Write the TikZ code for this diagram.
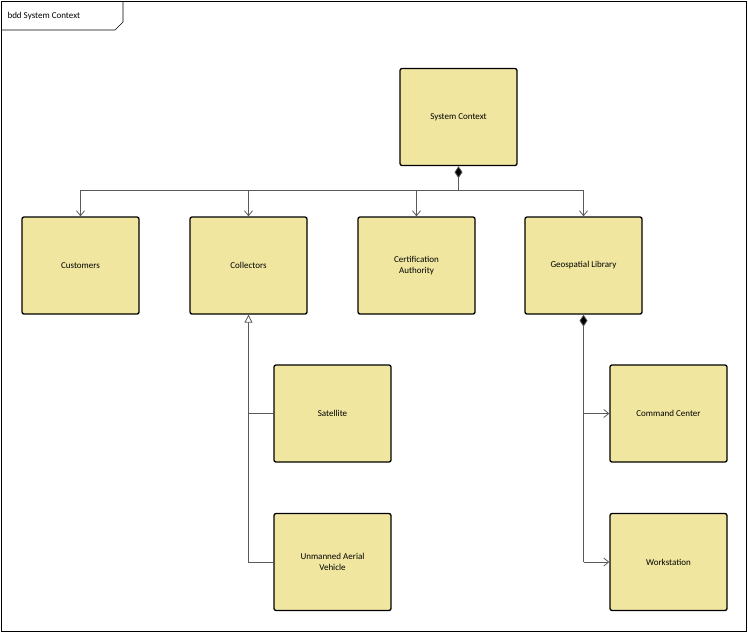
\documentclass[tikz,border=0pt]{standalone}
\usepackage{fontspec}
\setmainfont{Carlito}
\usetikzlibrary{arrows.meta}
\begin{document}
\begin{tikzpicture}[x=1pt,y=-1pt,
  blk/.style={draw=black,line width=1.3pt,fill={rgb,255:red,240;green,230;blue,160},rounded corners=2pt,minimum width=117pt,minimum height=97pt,align=center,font=\fontsize{9}{11}\selectfont,inner sep=0pt},
  con/.style={draw={rgb,255:red,90;green,90;blue,90},line width=0.8pt},
  open/.style={-{Straight Barb[length=5pt,width=8pt]}},
  comp/.style={{Diamond[length=12pt,width=8pt,fill=black]}-},
  gen/.style={-{Triangle[open,length=8pt,width=8pt,fill=white]}}]
\useasboundingbox (0,0) rectangle (748,633);
\draw[line width=1pt] (1,1) rectangle (746,631);
\draw[line width=0.6pt] (1,30) -- (115,30) -- (123,22) -- (123,1);
\node[anchor=west,font=\fontsize{9}{11}\selectfont] (tab) at (4,16) {bdd System Context};
\node[blk] (sc) at (458.5,117) {System Context};
\node[blk] (cu) at (80.5,265.5) {Customers};
\node[blk] (co) at (248.5,265.5) {Collectors};
\node[blk] (ca) at (416.5,265.5) {Certification\\Authority};
\node[blk] (gl) at (583.5,265.5) {Geospatial Library};
\node[blk] (sa) at (332.5,413.5) {Satellite};
\node[blk] (uv) at (332.5,562) {Unmanned Aerial\\Vehicle};
\node[blk] (cc) at (668.5,413.5) {Command Center};
\node[blk] (ws) at (668.5,562) {Workstation};
\coordinate (bus) at (458.5,190);
\draw[con,comp] (sc.south) -- (bus);
\foreach \n in {cu,co,ca,gl} \draw[con,open] (bus) -| (\n.north);
\draw[con,gen] (sa.west) -| (co.south);
\draw[con] (uv.west) -| (sa.west -| co.south);
\coordinate (gj) at (gl.south |- sa.west);
\draw[con,comp] (gl.south) -- (gj) -- (gl.south |- uv.west);
\draw[con,open] (gj) -- (cc.west);
\draw[con,open] (gl.south |- uv.west) -- (ws.west);
\end{tikzpicture}
\end{document}
